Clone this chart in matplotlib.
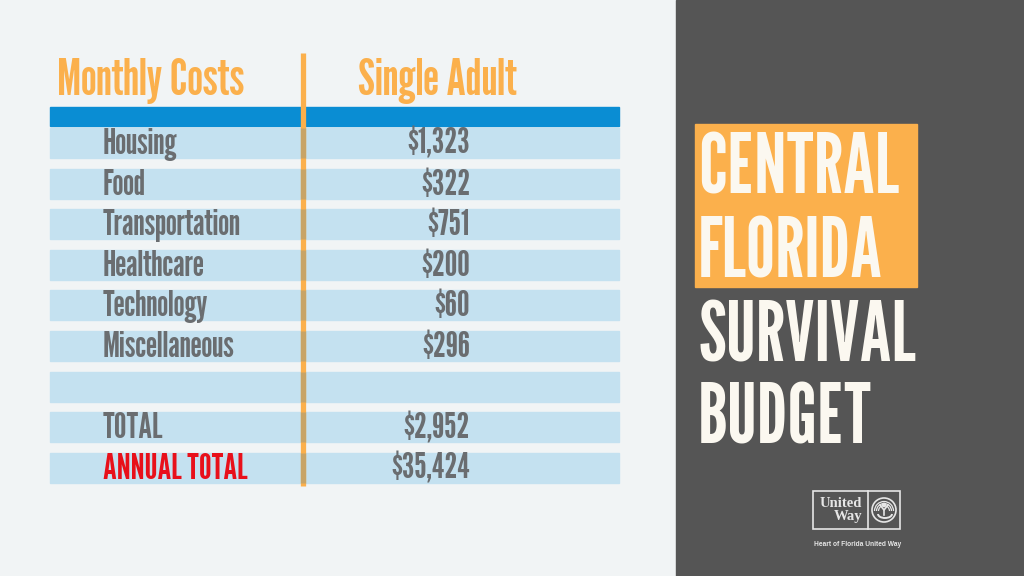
import matplotlib
matplotlib.use("Agg")
import matplotlib.pyplot as plt
from matplotlib.patches import Rectangle, Circle, Arc

# donnees du tableau
categories = ["Housing", "Food", "Transportation", "Healthcare", "Technology",
              "Miscellaneous", "", "TOTAL", "ANNUAL TOTAL"]
values = [1323, 322, 751, 200, 60, 296, None, 2952, 35424]
col_headers = ["Monthly Costs", "Single Adult"]
title_lines = ["CENTRAL", "FLORIDA", "SURVIVAL", "BUDGET"]

FONT = ["League Gothic", "Oswald", "Bebas Neue", "IBM Plex Sans Condensed", "DejaVu Sans"]
orange = "#FBB04C"
grey_txt = "#6A6D70"
band = "#C4E1F0"

fig = plt.figure(figsize=(10.24, 5.76), dpi=100)
fig.patch.set_facecolor("#F1F4F5")
ax = fig.add_axes([0, 0, 1, 1])
ax.set_xlim(0, 1024)
ax.set_ylim(576, 0)
ax.axis("off")

# panneau de droite
ax.add_patch(Rectangle((676, 0), 348, 576, color="#555555", zorder=1))

# en-tetes
ax.text(57, 95, col_headers[0], color=orange, fontsize=36, family=FONT,
        ha="left", va="baseline")
ax.text(358, 95, col_headers[1], color=orange, fontsize=36, family=FONT,
        ha="left", va="baseline")

# barre bleue
ax.add_patch(Rectangle((50, 107), 569, 19, color="#0A8DD3", zorder=2))

# ligne verticale orange
ax.plot([303, 303], [53, 486], color=orange, lw=3.8, zorder=3,
        solid_capstyle="butt")

row_top = 128
pitch = 40.6
for i, (cat, val) in enumerate(zip(categories, values)):
    y0 = row_top + i * pitch
    ax.add_patch(Rectangle((50, y0), 569, 30, color=band, zorder=2))
    # la ligne parait plus foncee sur les bandes
    ax.plot([303, 303], [y0, y0 + 30], color="#C8A466", lw=3.8, zorder=3.5,
            solid_capstyle="butt")
    yb = y0 + 26
    col = "#E8101A" if cat == "ANNUAL TOTAL" else grey_txt
    if cat:
        ax.text(103, yb, cat, color=col, fontsize=25.5, family=FONT,
                ha="left", va="baseline", zorder=4)
    if val is not None:
        ax.text(470, yb, "${:,}".format(val), color=grey_txt, fontsize=25.5,
                family=FONT, ha="right", va="baseline", zorder=4)

# titre
ax.add_patch(Rectangle((695, 124), 222, 163, color=orange, zorder=2))
ys = [193, 277, 361, 444]
for line, y in zip(title_lines, ys):
    ax.text(698, y, line, color="#FBF8F0", fontsize=59, family=FONT,
            ha="left", va="baseline", zorder=4)

# logo
lc = "#E6E6E6"
ax.add_patch(Rectangle((813, 491), 87, 38, fill=False, ec=lc, lw=1.2, zorder=4))
ax.plot([868, 868], [491, 529], color=lc, lw=1.2, zorder=4)
ax.text(862, 510, "United\nWay", color=lc, fontsize=10.5, family="Liberation Serif",
        fontweight="bold", ha="right", va="center", multialignment="right",
        linespacing=1.0, zorder=5)
ax.add_patch(Circle((884, 510), 12, fill=False, ec=lc, lw=1.2, zorder=5))
for r in (9.5, 7.5, 5.5):
    ax.add_patch(Arc((884, 511), 2 * r, 2 * r, theta1=180, theta2=360,
                     ec=lc, lw=0.9, zorder=5))
ax.add_patch(Circle((884, 505), 1.6, color=lc, zorder=6))
ax.plot([880, 884, 888], [505, 510, 505], color=lc, lw=1.2, zorder=6)
ax.plot([884, 884], [510, 515], color=lc, lw=1.2, zorder=6)
ax.add_patch(Arc((885, 514), 14, 8, theta1=0, theta2=180, ec=lc, lw=1.4, zorder=6))
ax.text(858, 544, "Heart of Florida United Way", color=lc, fontsize=4.8,
        family="Liberation Sans", fontweight="bold", ha="center", va="center")

fig.savefig("out.png", dpi=100, facecolor=fig.get_facecolor())
